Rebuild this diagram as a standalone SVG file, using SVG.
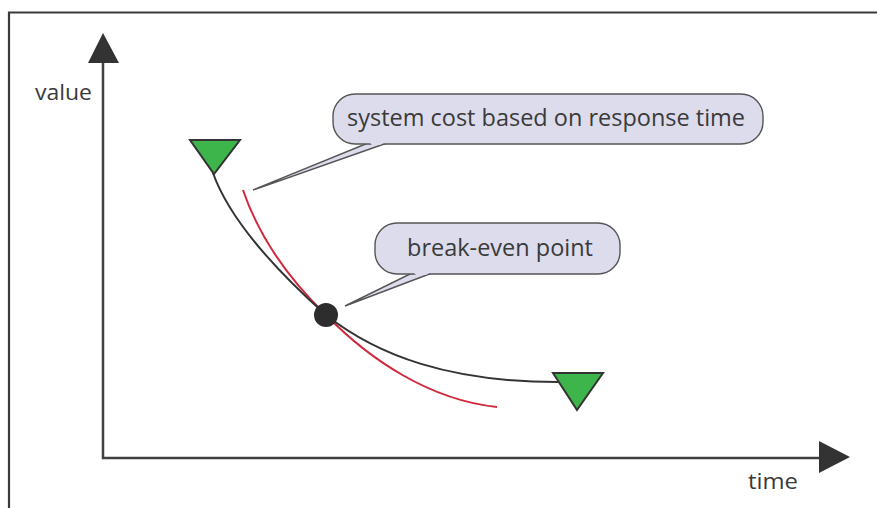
<svg xmlns="http://www.w3.org/2000/svg" width="877" height="508" viewBox="0 0 877 508">
<style>
.frame{stroke:#3a3a3a;stroke-width:2.2;fill:none}
.axis{stroke:#404040;stroke-width:2.5;fill:none}
.head{fill:#333;stroke:none}
.lbl{font-family:"Open Sans","Liberation Sans",sans-serif;font-size:22px;fill:#3a3a3a}
.ctext{font-family:"Open Sans","Liberation Sans",sans-serif;font-size:23.5px;fill:#3a3a3a}
.box{fill:#dcdcec;stroke:#555;stroke-width:1.4}
.tri{fill:#3db54a;stroke:#333;stroke-width:2;stroke-linejoin:miter}
.black{stroke:#333;stroke-width:2;fill:none}
.red{stroke:#d0283c;stroke-width:2;fill:none}
</style>
<rect width="877" height="508" fill="#fff"/>
<path class="frame" d="M9,508 V12.5 H877"/>
<g id="axes">
<path class="axis" d="M103,60 V458 H822"/>
<polygon class="head" points="103,33 119,63 88,63"/>
<polygon class="head" points="850,457 819,441 819,473"/>
<text class="lbl" x="35" y="100" textLength="57" lengthAdjust="spacingAndGlyphs">value</text>
<text class="lbl" x="748" y="489" textLength="50" lengthAdjust="spacingAndGlyphs">time</text>
</g>
<g id="connectors">
<path class="red" d="M243,190 C260,240 290,280 326,315 C370,360 430,400 497,407"/>
<path class="black" d="M213,173 C228,215 270,265 326,315 C378,356 450,382 558,382"/>
</g>
<g id="start">
<polygon class="tri" points="190,140 240,140 214,174"/>
</g>
<g id="end">
<polygon class="tri" points="553,373 603,373 577,410"/>
</g>
<g id="break-even">
<circle cx="326" cy="315" r="12" fill="#2d2d2d"/>
</g>
<g id="callout-cost">
<polygon class="box" points="368,143 387,143 253,190"/>
<rect class="box" x="333" y="94" width="430" height="50" rx="22" ry="22"/>
<polygon points="369,142 386,142 380,145 372,145" fill="#dcdcec"/>
<text class="ctext" x="347" y="126" textLength="398" lengthAdjust="spacingAndGlyphs">system cost based on response time</text>
</g>
<g id="callout-break">
<polygon class="box" points="412,273 432,273 345,306"/>
<rect class="box" x="375" y="223" width="245" height="51" rx="22" ry="22"/>
<polygon points="413,272 431,272 426,275 416,275" fill="#dcdcec"/>
<text class="ctext" x="407" y="256" textLength="186" lengthAdjust="spacingAndGlyphs">break-even point</text>
</g>
</svg>
